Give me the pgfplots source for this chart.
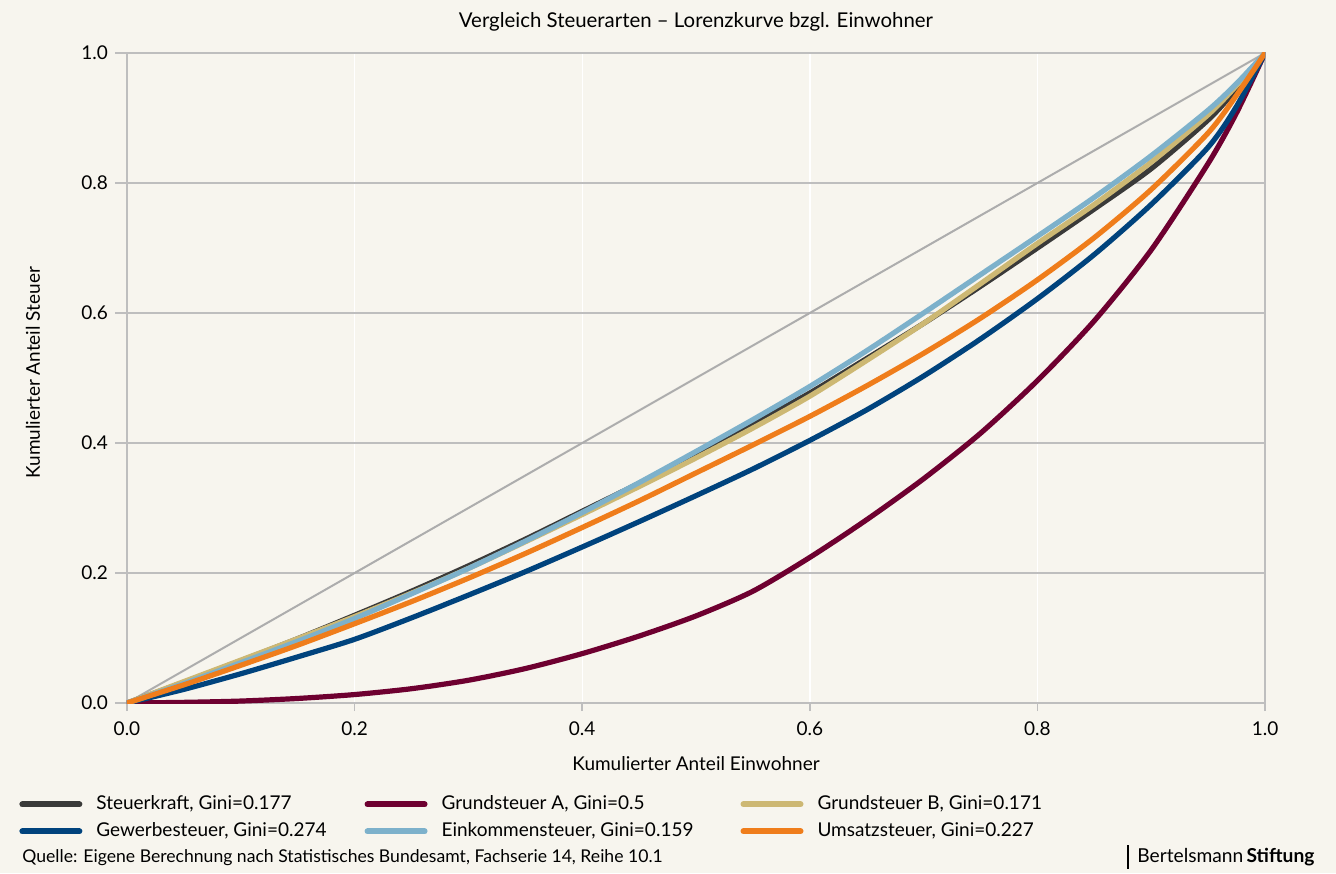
\documentclass[border=0pt]{standalone}
\usepackage{pgfplots}
\pgfplotsset{compat=1.18}
\usepackage{fontspec}
\setmainfont{Lato}
\usetikzlibrary{backgrounds}
\definecolor{bg}{HTML}{F7F5EE}
\definecolor{gridgray}{HTML}{BEBEBE}
\definecolor{diaggray}{HTML}{ADADAD}
\definecolor{cKraft}{HTML}{3A3A39}
\definecolor{cGrA}{HTML}{6E0030}
\definecolor{cGrB}{HTML}{CDB873}
\definecolor{cGew}{HTML}{00437D}
\definecolor{cEink}{HTML}{7DB1CB}
\definecolor{cUms}{HTML}{EF7D1B}
\begin{document}
\begin{tikzpicture}
\begin{axis}[
  name=ax,
  scale only axis, width=569pt, height=325pt,
  xmin=0, xmax=1, ymin=0, ymax=1,
  xtick={0,0.2,0.4,0.6,0.8,1}, ytick={0,0.2,0.4,0.6,0.8,1},
  /pgf/number format/.cd, fixed, fixed zerofill, precision=1, assume math mode=true,
  /pgfplots/.cd,
  tick label style={font=\fontsize{9.5}{11}\selectfont, text=black},
  axis line style={draw=gridgray, line width=1pt},
  xmajorgrids, ymajorgrids,
  x grid style={white, line width=0.7pt},
  y grid style={gridgray, line width=0.8pt},
  tick align=outside, tick pos=left,
  major tick length=6pt,
  xtick style={draw=gridgray, line width=0.8pt, /pgfplots/major tick length=4pt},
  ytick style={draw=gridgray, line width=0.8pt},
  title={Vergleich Steuerarten – Lorenzkurve bzgl. Einwohner},
  title style={font=\fontsize{10.2}{12}\selectfont, at={(axis description cs:0.5,1)}, anchor=center, yshift=9.5pt},
  xlabel={Kumulierter Anteil Einwohner},
  xlabel style={font=\fontsize{9.5}{11}\selectfont, at={(axis description cs:0.5,0)}, anchor=center, yshift=-30.5pt},
  ylabel={Kumulierter Anteil Steuer},
  ylabel style={font=\fontsize{9.5}{11}\selectfont, at={(axis description cs:-0.0826,0.508)}, anchor=center},
  legend columns=3,
  legend cell align=left,
  legend style={at={(axis description cs:-0.1002,-0.13)}, anchor=north west, draw=none, fill=none,
    font=\fontsize{9.5}{11}\selectfont, row sep=1pt,
    /tikz/every odd column/.append style={column sep=5pt},
    /tikz/column 2/.append style={column sep=17pt},
    /tikz/column 4/.append style={column sep=21.5pt}},
  legend image code/.code={\draw[line width=3pt, line cap=round] (0pt,0pt) -- (28.5pt,0pt);},
  every axis plot/.append style={line width=2.6pt, line cap=round, line join=round, smooth, tension=0.45},
]
\addplot[diaggray, line width=1pt, forget plot] coordinates {(0,0) (1,1)};
% Steuerkraft
\addplot[cKraft] coordinates {(0,0) (0.05,0.032) (0.1,0.065) (0.15,0.099) (0.2,0.135) (0.25,0.172) (0.3,0.211) (0.35,0.252) (0.4,0.295) (0.45,0.338) (0.5,0.383) (0.55,0.429) (0.6,0.477) (0.65,0.530) (0.7,0.584) (0.75,0.641) (0.8,0.700) (0.85,0.760) (0.9,0.822) (0.95,0.897) (0.975,0.945) (1,1)};
\addlegendentry{Steuerkraft, Gini=0.177}
% Grundsteuer A
\addplot[cGrA] coordinates {(0,0) (0.05,0.001) (0.1,0.003) (0.15,0.007) (0.2,0.013) (0.25,0.022) (0.3,0.035) (0.35,0.053) (0.4,0.076) (0.45,0.103) (0.5,0.134) (0.55,0.172) (0.6,0.224) (0.65,0.282) (0.7,0.345) (0.75,0.415) (0.8,0.496) (0.85,0.588) (0.9,0.697) (0.95,0.830) (0.975,0.908) (1,1)};
\addlegendentry{Grundsteuer A, Gini=0.5}
% Grundsteuer B
\addplot[cGrB] coordinates {(0,0) (0.05,0.033) (0.1,0.066) (0.15,0.099) (0.2,0.133) (0.25,0.169) (0.3,0.207) (0.35,0.248) (0.4,0.29) (0.45,0.333) (0.5,0.377) (0.55,0.423) (0.6,0.472) (0.65,0.527) (0.7,0.584) (0.75,0.645) (0.8,0.707) (0.85,0.767) (0.9,0.832) (0.95,0.905) (0.975,0.95) (1,1)};
\addlegendentry{Grundsteuer B, Gini=0.171}
% Gewerbesteuer
\addplot[cGew] coordinates {(0,0) (0.05,0.021) (0.1,0.045) (0.15,0.071) (0.2,0.098) (0.25,0.131) (0.3,0.166) (0.35,0.202) (0.4,0.240) (0.45,0.279) (0.5,0.319) (0.55,0.36) (0.6,0.404) (0.65,0.451) (0.7,0.503) (0.75,0.560) (0.8,0.622) (0.85,0.690) (0.9,0.767) (0.95,0.855) (0.975,0.918) (1,1)};
\addlegendentry{Gewerbesteuer, Gini=0.274}
% Einkommensteuer
\addplot[cEink] coordinates {(0,0) (0.05,0.030) (0.1,0.062) (0.15,0.095) (0.2,0.130) (0.25,0.168) (0.3,0.207) (0.35,0.249) (0.4,0.293) (0.45,0.339) (0.5,0.387) (0.55,0.436) (0.6,0.487) (0.65,0.542) (0.7,0.600) (0.75,0.659) (0.8,0.718) (0.85,0.778) (0.9,0.842) (0.95,0.912) (0.975,0.953) (1,1)};
\addlegendentry{Einkommensteuer, Gini=0.159}
% Umsatzsteuer
\addplot[cUms] coordinates {(0,0) (0.05,0.028) (0.1,0.058) (0.15,0.089) (0.2,0.122) (0.25,0.156) (0.3,0.192) (0.35,0.230) (0.4,0.270) (0.45,0.311) (0.5,0.354) (0.55,0.397) (0.6,0.441) (0.65,0.488) (0.7,0.538) (0.75,0.592) (0.8,0.651) (0.85,0.716) (0.9,0.790) (0.95,0.877) (0.975,0.935) (1,1)};
\addlegendentry{Umsatzsteuer, Gini=0.227}
\end{axis}
\node[anchor=west, font=\fontsize{8.8}{10}\selectfont, inner sep=0pt] at ([xshift=-52.5pt, yshift=-77.5pt]ax.south west) {Quelle: Eigene Berechnung nach Statistisches Bundesamt, Fachserie 14, Reihe 10.1};
\draw[black, line width=0.8pt] ([xshift=-68.5pt, yshift=-71pt]ax.south east) -- ([xshift=-68.5pt, yshift=-83pt]ax.south east);
\node[anchor=west, font=\fontsize{9.6}{11}\selectfont, inner sep=0pt] at ([xshift=-64pt, yshift=-77pt]ax.south east) {Bertelsmann\,\textbf{Stiftung}};
\begin{scope}[on background layer]
\fill[bg] ([xshift=-63.5pt, yshift=-85pt]ax.south west) rectangle ([xshift=35.5pt, yshift=26.5pt]ax.north east);
\end{scope}
\pgfresetboundingbox
\path[use as bounding box] ([xshift=-63.5pt, yshift=-85pt]ax.south west) rectangle ([xshift=35.5pt, yshift=26.5pt]ax.north east);
\end{tikzpicture}
\end{document}
